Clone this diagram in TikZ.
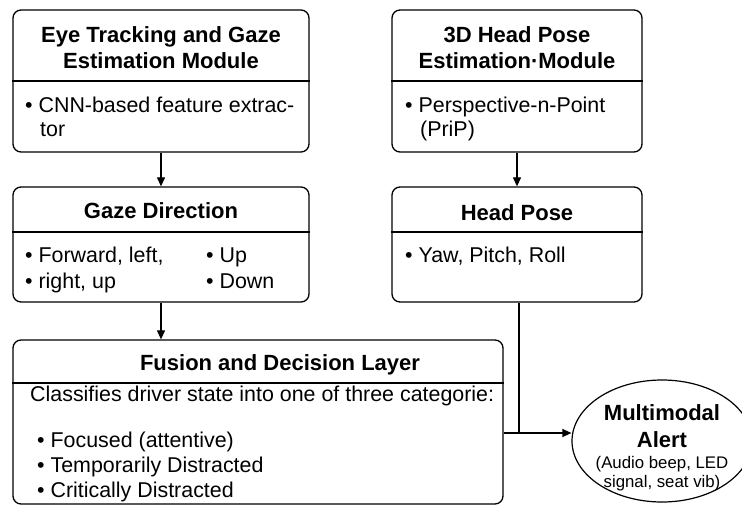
\documentclass[tikz,border=0pt]{standalone}
\usepackage{fontspec}
\setmainfont{Liberation Sans}
\usetikzlibrary{arrows.meta,positioning,shapes.geometric}

\begin{document}
\begin{tikzpicture}[x=1pt,y=-1pt]
\tikzset{
  panel/.style={draw=black,line width=1.3pt,rounded corners=8pt,inner sep=0pt},
  divider/.style={draw=black,line width=1.2pt},
  headline/.style={anchor=base,inner sep=0pt,font=\bfseries\fontsize{22}{26}\selectfont},
  itemline/.style={anchor=base west,inner sep=0pt,font=\fontsize{21.4}{25}\selectfont},
  alertline/.style={anchor=base,inner sep=0pt,font=\fontsize{16.8}{20}\selectfont},
  connector/.style={draw=black,line width=1.2pt},
  flowarrow/.style={connector,-{Triangle[length=9pt,width=8pt]}}
}
\useasboundingbox (0,0) rectangle (742,506);
\clip (0,0) rectangle (742,506);
% eye tracking module
\node[panel,minimum width=296pt,minimum height=142pt] (eyebox) at (161,81) {};
\draw[divider] (eyebox.west) -- (eyebox.east);
\node[headline] (eyehead1) at (161,42) {Eye Tracking and Gaze};
\node[headline] (eyehead2) at (161,68) {Estimation Module};
\node[itemline] (eyeitem1) at (25,112) {\textbullet\ CNN-based feature extrac-};
\node[itemline] (eyeitem2) at (40,136) {tor};
% head pose module
\node[panel,minimum width=250pt,minimum height=142pt] (posebox) at (517,81) {};
\draw[divider] (posebox.west) -- (posebox.east);
\node[headline] (posehead1) at (517,42) {3D Head Pose};
\node[headline] (posehead2) at (517,68) {Estimation·Module};
\node[itemline] (poseitem1) at (405,112) {\textbullet\ Perspective-n-Point};
\node[itemline] (poseitem2) at (420,136) {(PriP)};
% gaze direction
\node[panel,minimum width=296pt,minimum height=115pt] (gazebox) at (161,244.5) {};
\draw[divider] (gazebox.west |- 0,232) -- (gazebox.east |- 0,232);
\node[headline] (gazehead) at (161,218) {Gaze Direction};
\node[itemline] (gazeitem1) at (25,262) {\textbullet\ Forward, left,};
\node[itemline] (gazeitem2) at (25,288) {\textbullet\ right, up};
\node[itemline] (gazeitem3) at (206,262) {\textbullet\ Up};
\node[itemline] (gazeitem4) at (206,288) {\textbullet\ Down};
% head pose
\node[panel,minimum width=250pt,minimum height=115pt] (headbox) at (517,244.5) {};
\draw[divider] (headbox.west |- 0,232) -- (headbox.east |- 0,232);
\node[headline] (headhead) at (517,220) {Head Pose};
\node[itemline] (headitem1) at (405,262) {\textbullet\ Yaw, Pitch, Roll};
% fusion layer
\node[panel,minimum width=490pt,minimum height=164pt] (fusebox) at (258,422) {};
\draw[divider] (fusebox.west |- 0,383) -- (fusebox.east |- 0,383);
\node[headline] (fusehead) at (280,370) {Fusion and Decision Layer};
\node[itemline] (fuseintro) at (30,401) {Classifies driver state into one of three categorie:};
\node[itemline] (fuseitem1) at (37,447) {\textbullet\ Focused (attentive)};
\node[itemline] (fuseitem2) at (37,472) {\textbullet\ Temporarily Distracted};
\node[itemline] (fuseitem3) at (37,497) {\textbullet\ Critically Distracted};
% alert
\node[ellipse,draw=black,line width=1.2pt,minimum width=180pt,minimum height=122pt,inner sep=0pt] (alert) at (662,441) {};
\node[headline] (alerthead1) at (662,420) {Multimodal};
\node[headline] (alerthead2) at (662,447) {Alert};
\node[alertline] (alertnote1) at (662,468) {(Audio beep, LED};
\node[alertline] (alertnote2) at (662,487) {signal, seat vib)};
% connectors
\coordinate (joint) at (519,433);
\draw[flowarrow] (eyebox.south) -- (gazebox.north);
\draw[flowarrow] (posebox.south) -- (headbox.north);
\draw[flowarrow] (gazebox.south) -- (gazebox.south |- fusebox.north);
\draw[connector] (joint |- headbox.south) -- (joint);
\draw[flowarrow] (fusebox.east |- joint) -- (alert.west |- joint);
\end{tikzpicture}
\end{document}
